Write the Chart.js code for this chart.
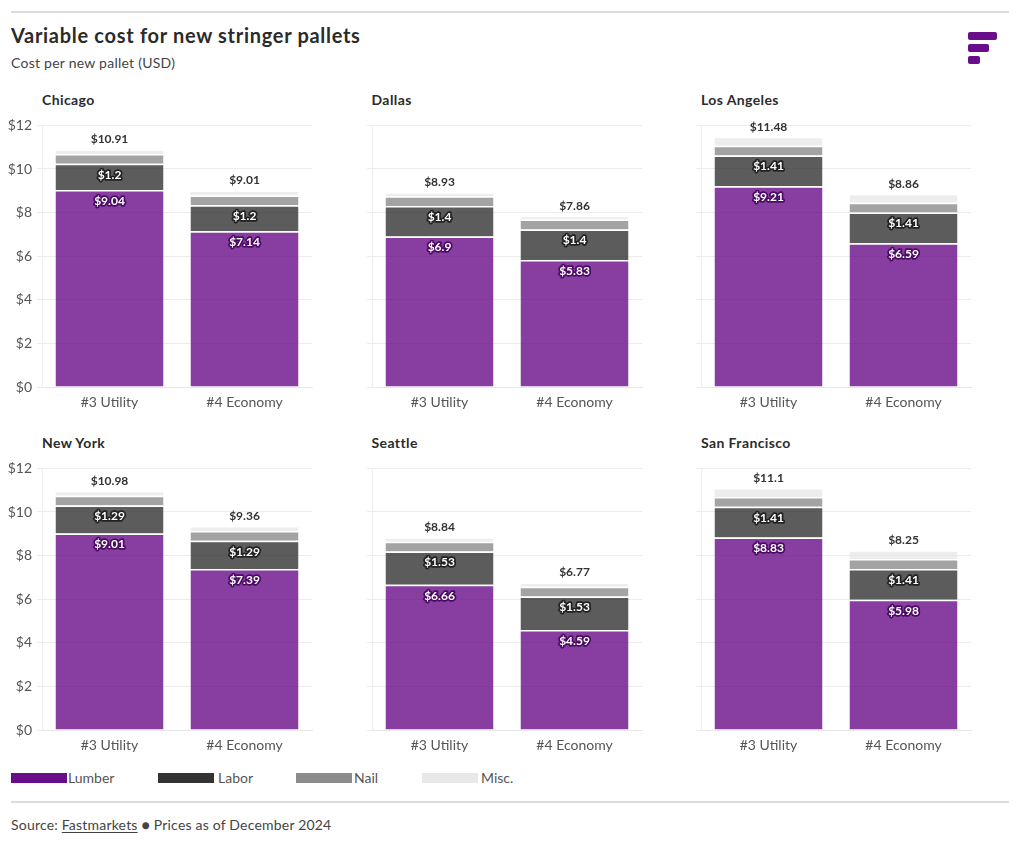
<!DOCTYPE html>
<html>
<head>
<meta charset="utf-8">
<script src="https://cdn.jsdelivr.net/npm/chart.js@4"></script>
<style>
  body { margin: 0; background: #fff; font-family: Lato, "Open Sans", sans-serif; color: #333; }
  #page { position: relative; width: 1020px; height: 847px; }
  .rule { position: absolute; left: 11px; width: 998px; height: 2px; background: #dcdcdc; }
  #title { position: absolute; left: 11px; top: 23px; font-size: 20px; font-weight: bold; color: #2b2b2b; letter-spacing: 0.7px; }
  #sub { position: absolute; left: 11px; top: 54px; font-size: 14px; color: #444; letter-spacing: 0.25px; }
  .ptitle { position: absolute; font-size: 14px; font-weight: bold; color: #2b2b2b; letter-spacing: 0.4px; }
  canvas { position: absolute; }
  .leg { position: absolute; top: 769px; font-size: 14px; color: #555; }
  .sw { position: absolute; top: 773px; width: 56px; height: 10px; }
  #src { position: absolute; left: 11px; top: 816px; font-size: 14px; color: #444; letter-spacing: 0.2px; }
  #src u { text-underline-offset: 2px; }
</style>
</head>
<body>
<div id="page">
  <div class="rule" style="top:11px"></div>
  <div id="title">Variable cost for new stringer pallets</div>
  <div id="sub">Cost per new pallet (USD)</div>
  <svg style="position:absolute;left:966px;top:30px" width="34" height="36">
    <rect x="2" y="2" width="29" height="8" rx="2" fill="#6a0d8a"/>
    <rect x="2" y="14" width="21" height="8" rx="2" fill="#6a0d8a"/>
    <rect x="2" y="26" width="12" height="8" rx="2" fill="#6a0d8a"/>
  </svg>
  <div id="charts"></div>
  <div class="sw" style="left:11px;background:#6a0d8a"></div><div class="leg" style="left:68px">Lumber</div>
  <div class="sw" style="left:158px;background:#333"></div><div class="leg" style="left:218px">Labor</div>
  <div class="sw" style="left:296px;background:#8c8c8c"></div><div class="leg" style="left:354px">Nail</div>
  <div class="sw" style="left:422px;background:#e8e8e8"></div><div class="leg" style="left:481px">Misc.</div>
  <div class="rule" style="top:801px"></div>
  <div id="src">Source: <u>Fastmarkets</u> &#9679; Prices as of December 2024</div>
</div>
<script>
const cities = ["Chicago", "Dallas", "Los Angeles", "New York", "Seattle", "San Francisco"];
const grades = ["#3 Utility", "#4 Economy"];
const lumber = [[9.04, 7.14], [6.9, 5.83], [9.21, 6.59], [9.01, 7.39], [6.66, 4.59], [8.83, 5.98]];
const labor = [[1.2, 1.2], [1.4, 1.4], [1.41, 1.41], [1.29, 1.29], [1.53, 1.53], [1.41, 1.41]];
const nail = [[0.45, 0.45], [0.45, 0.45], [0.45, 0.45], [0.45, 0.45], [0.45, 0.45], [0.45, 0.45]];
const misc = [[0.22, 0.22], [0.18, 0.18], [0.41, 0.41], [0.23, 0.23], [0.2, 0.2], [0.41, 0.41]];
const yTicks = [0, 2, 4, 6, 8, 10, 12];

const fmt = v => "$" + parseFloat(v.toFixed(2));

// labels on the bars: inside for lumber/labor, total on top
const barLabels = {
  id: "barLabels",
  afterDatasetsDraw(chart) {
    const ctx = chart.ctx;
    ctx.save();
    ctx.font = "bold 12px Lato, sans-serif";
    ctx.textAlign = "center";
    ctx.textBaseline = "middle";
    const halo = ["#4b0a63", "#222"];
    [0, 1].forEach(di => {
      chart.getDatasetMeta(di).data.forEach((bar, i) => {
        const v = chart.data.datasets[di].data[i];
        ctx.lineWidth = 3.5;
        ctx.lineJoin = "round";
        ctx.strokeStyle = halo[di];
        ctx.strokeText(fmt(v), bar.x, bar.y + 11);
        ctx.fillStyle = "#fff";
        ctx.fillText(fmt(v), bar.x, bar.y + 11);
      });
    });
    const top = chart.getDatasetMeta(3).data;
    top.forEach((bar, i) => {
      let sum = 0;
      chart.data.datasets.forEach(d => sum += d.data[i]);
      ctx.fillStyle = "#333";
      ctx.fillText(fmt(sum), bar.x, bar.y - 10);
    });
    ctx.restore();
  }
};

const holder = document.getElementById("charts");
cities.forEach((city, c) => {
  const col = c % 3, row = Math.floor(c / 3);
  const left = col * 329.5, top = row === 0 ? 112 : 455;

  const t = document.createElement("div");
  t.className = "ptitle";
  t.style.left = (left + 42) + "px";
  t.style.top = (top - 21) + "px";
  t.textContent = city;
  holder.appendChild(t);

  const cv = document.createElement("canvas");
  cv.style.left = left + "px";
  cv.style.top = top + "px";
  cv.width = 318; cv.height = 308;
  cv.style.width = "318px"; cv.style.height = "308px";
  holder.appendChild(cv);

  const seg = (label, data, color) => ({
    label, data, backgroundColor: color,
    borderColor: "#fff", borderWidth: { top: 1.5, bottom: 0, left: 0, right: 0 }, borderSkipped: false,
    barPercentage: 0.8, categoryPercentage: 1
  });

  new Chart(cv, {
    type: "bar",
    data: {
      labels: grades,
      datasets: [
        seg("Lumber", lumber[c], "rgba(106,13,138,0.8)"),
        seg("Labor", labor[c], "rgba(51,51,51,0.8)"),
        seg("Nail", nail[c], "rgba(140,140,140,0.8)"),
        seg("Misc.", misc[c], "rgba(232,232,232,0.8)")
      ]
    },
    options: {
      responsive: false,
      animation: false,
      layout: { padding: { top: 12, right: 6 } },
      plugins: { legend: { display: false }, tooltip: { enabled: false } },
      scales: {
        x: {
          stacked: true,
          grid: { display: false, drawTicks: false },
          border: { color: "#e6e6e6" },
          ticks: { color: "#555", font: { family: "Lato", size: 14 }, padding: 7 },
          afterFit: s => { s.height = 33; }
        },
        y: {
          stacked: true, min: 0, max: 12,
          afterBuildTicks: s => { s.ticks = yTicks.map(v => ({ value: v })); },
          grid: { color: "#ececec", tickLength: 5 },
          border: { color: "#eeeeee" },
          ticks: {
            color: "#555", font: { family: "Lato", size: 14 }, padding: 5,
            callback: v => col === 0 ? "$" + v : ""
          },
          afterFit: s => { s.width = 42; }
        }
      }
    },
    plugins: [barLabels]
  });
});
</script>
</body>
</html>
